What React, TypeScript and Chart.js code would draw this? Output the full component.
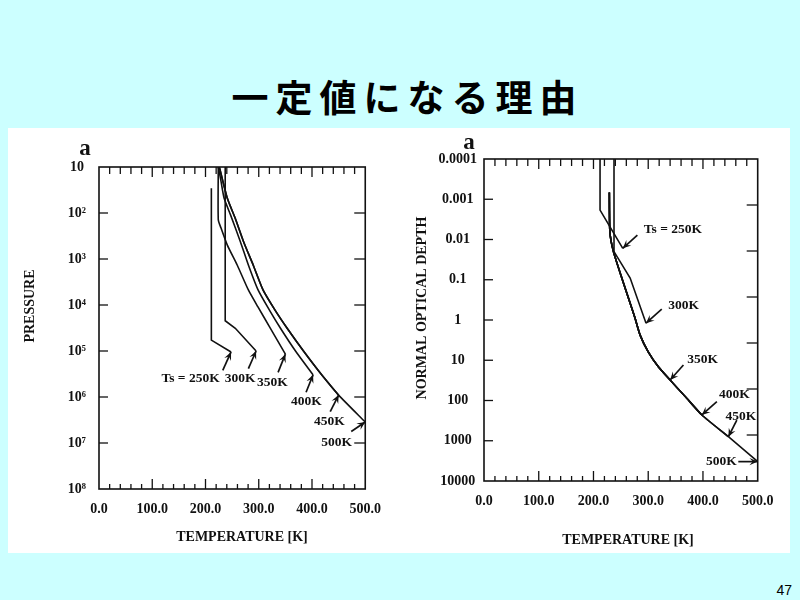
import { useEffect, useRef } from 'react';
import Chart from 'chart.js/auto';

const SERIF = '"Liberation Serif", "Times New Roman", Times, serif';
const INK = '#111111';

// temperature axis shared by both panels
const tempMin = 0;
const tempMax = 500;
const tempStep = 20;

// surface temperature written at the end of each curve
const tsLabels = ['Ts = 250K', '300K', '350K', '400K', '450K', '500K'];

// left panel: pressure (log, increasing downward)
const pressureTicks = [1e1, 1e2, 1e3, 1e4, 1e5, 1e6, 1e7, 1e8];
const pressureLabels = ['10', '10²', '10³', '10⁴', '10⁵', '10⁶', '10⁷', '10⁸'];

const pres250T = [211, 211, 248];
const pres250P = [29, 5.8e4, 1.05e5];
const pres300T = [237, 237, 256, 295];
const pres300P = [10, 2.2e4, 3.2e4, 1.0e5];
const pres350T = [224, 224, 229, 241, 259.5, 280.5, 298.5, 320, 350];
const pres350P = [10, 140, 210, 500, 1350, 4700, 1.1e4, 2.95e4, 1.17e5];
const pres400T = [224, 229, 235, 247, 265.5, 280.5, 298.7, 319.5, 340.5, 369, 402];
const pres400P = [10, 20, 48, 110, 420, 1350, 4700, 1.26e4, 3.16e4, 1.0e5, 3.3e5];
const pres450T = [226, 241, 256, 271.5, 289.5, 308, 330, 353, 384, 417, 450];
const pres450P = [10, 48, 132, 420, 1350, 4700, 1.26e4, 3.16e4, 1.0e5, 3.16e5, 9.1e5];
const pres500T = [226, 241, 256, 271.5, 289.5, 308, 330, 353, 384, 417, 450, 500];
const pres500P = [10, 48, 132, 420, 1350, 4700, 1.26e4, 3.16e4, 1.0e5, 3.16e5, 9.1e5, 3.5e6];

// right panel: normal optical depth (log, increasing downward)
const depthTicks = [1e-4, 1e-3, 1e-2, 0.1, 1, 10, 100, 1000, 10000];
const depthLabels = ['0.0001', '0.001', '0.01', '0.1', '1', '10', '100', '1000', '10000'];
// unlabelled marks on the right edge of that panel (0..7 scale)
const depthRightTicks = [1, 2, 3, 4, 5, 6];

const depth250T = [212, 212, 253.5];
const depth250Tau = [1e-4, 1.86e-3, 0.0166];
const depth300T = [237.5, 237.5, 267, 296];
const depth300Tau = [1e-4, 0.02, 0.091, 1.2];
const depth350T = [229, 230, 236.5, 254, 264, 276, 285, 300, 318.5, 340];
const depth350Tau = [6.8e-4, 6.5e-3, 0.02, 0.112, 0.29, 0.91, 2.34, 6.2, 14.5, 31];
const depth400T = [229, 230, 236.5, 254, 264, 276, 285, 300, 318.5, 340, 368, 398];
const depth400Tau = [6.8e-4, 6.5e-3, 0.02, 0.112, 0.29, 0.91, 2.34, 6.2, 14.5, 31, 81, 229];
const depth450T = [229, 230, 236.5, 254, 264, 276, 285, 300, 318.5, 340, 368, 398, 446.5];
const depth450Tau = [6.8e-4, 6.5e-3, 0.02, 0.112, 0.29, 0.91, 2.34, 6.2, 14.5, 31, 81, 229, 794];
const depth500T = [229, 230, 236.5, 254, 264, 276, 285, 300, 318.5, 340, 368, 398, 446.5, 500];
const depth500Tau = [6.8e-4, 6.5e-3, 0.02, 0.112, 0.29, 0.91, 2.34, 6.2, 14.5, 31, 81, 229, 794, 3300];

interface Curve { t: number[]; v: number[]; smooth: boolean }
// arrow tail (dx, dy) and label centre (lx, ly), in px from the curve's end
interface Note { dx: number; dy: number; lx: number; ly: number }

interface PanelProps {
  width: number;
  height: number;
  curves: Curve[];
  notes: Note[];
  yTicks: number[];
  yLabels: string[];
  yPad: number;
  yWidth: number;
  xHeight: number;
  padTop: number;
  padRight: number;
  rightTicks?: number[];
  yTitle: string;
  letterAt: [number, number];
  xTitleAt: [number, number];
  yTitleAt: [number, number];
}

function seg(ctx: CanvasRenderingContext2D, x1: number, y1: number, x2: number, y2: number) {
  ctx.beginPath();
  ctx.moveTo(x1, y1);
  ctx.lineTo(x2, y2);
  ctx.stroke();
}

function decor(p: PanelProps) {
  return {
    id: 'decor',
    afterDatasetsDraw(chart: any) {
      const { ctx, chartArea, scales } = chart;
      const { left, right, top, bottom } = chartArea;
      const xs = scales.x;
      const ys = scales.y;
      ctx.save();
      ctx.strokeStyle = INK;
      ctx.fillStyle = INK;
      ctx.lineWidth = 1.6;
      ctx.strokeRect(left, top, right - left, bottom - top);

      // inward tick marks
      ctx.lineWidth = 1.3;
      xs.ticks.forEach((t: any) => {
        if (t.value <= tempMin || t.value >= tempMax) return;
        const px = xs.getPixelForValue(t.value);
        const major = t.value % 100 === 0;
        seg(ctx, px, bottom, px, bottom - (major ? 10 : 5));
        seg(ctx, px, top, px, top + (major ? 10 : 7));
      });
      ys.ticks.forEach((t: any) => {
        const py = ys.getPixelForValue(t.value);
        if (py < top + 2 || py > bottom - 2) return;
        seg(ctx, left, py, left + 9, py);
      });
      const rs = p.rightTicks ? scales.y2 : ys;
      rs.ticks.forEach((t: any) => {
        const py = rs.getPixelForValue(t.value);
        if (py < top + 2 || py > bottom - 2) return;
        seg(ctx, right - 11, py, right, py);
      });

      // arrows and Ts labels at the end of each curve
      ctx.font = `bold 13.5px ${SERIF}`;
      ctx.textAlign = 'center';
      ctx.textBaseline = 'middle';
      p.notes.forEach((n, i) => {
        const c = p.curves[i];
        const k = c.t.length - 1;
        const tx = xs.getPixelForValue(c.t[k]);
        const ty = ys.getPixelForValue(c.v[k]);
        const bx = tx + n.dx;
        const by = ty + n.dy;
        ctx.lineWidth = 1.7;
        seg(ctx, bx, by, tx, ty);
        const a = Math.atan2(ty - by, tx - bx);
        const hl = 9;
        ctx.beginPath();
        ctx.moveTo(tx, ty);
        ctx.lineTo(tx - hl * Math.cos(a - 0.42), ty - hl * Math.sin(a - 0.42));
        ctx.lineTo(tx - hl * 0.55 * Math.cos(a), ty - hl * 0.55 * Math.sin(a));
        ctx.lineTo(tx - hl * Math.cos(a + 0.42), ty - hl * Math.sin(a + 0.42));
        ctx.closePath();
        ctx.fill();
        ctx.fillText(tsLabels[i], tx + n.lx, ty + n.ly);
      });

      // panel letter and axis titles
      ctx.font = `bold 23px ${SERIF}`;
      ctx.textBaseline = 'alphabetic';
      ctx.fillText('a', p.letterAt[0], p.letterAt[1]);
      ctx.font = `bold 14px ${SERIF}`;
      ctx.textBaseline = 'middle';
      ctx.fillText('TEMPERATURE [K]', p.xTitleAt[0], p.xTitleAt[1]);
      ctx.translate(p.yTitleAt[0], p.yTitleAt[1]);
      ctx.rotate(-Math.PI / 2);
      ctx.fillText(p.yTitle, 0, 0);
      ctx.restore();
    },
  };
}

function Panel(p: PanelProps) {
  const canvasRef = useRef<HTMLCanvasElement>(null);
  const chartRef = useRef<Chart | null>(null);

  useEffect(() => {
    if (!canvasRef.current) return;
    if (chartRef.current) chartRef.current.destroy();
    const tickFont = { family: SERIF, weight: 'bold' as const, size: 14 };

    const scales: any = {
      x: {
        type: 'linear',
        min: tempMin,
        max: tempMax,
        grid: { display: false, drawTicks: false, tickLength: 0 },
        border: { display: false },
        ticks: {
          stepSize: tempStep,
          autoSkip: false,
          maxRotation: 0,
          padding: 12,
          color: INK,
          font: tickFont,
          callback: (v: number) => (v % 100 === 0 ? v.toFixed(1) : ''),
        },
        afterFit: (s: any) => { s.height = p.xHeight; },
      },
      y: {
        type: 'logarithmic',
        reverse: true,
        min: p.yTicks[0],
        max: p.yTicks[p.yTicks.length - 1],
        grid: { display: false, drawTicks: false, tickLength: 0 },
        border: { display: false },
        afterBuildTicks: (s: any) => { s.ticks = p.yTicks.map((value) => ({ value })); },
        ticks: {
          padding: p.yPad,
          crossAlign: 'center',
          color: INK,
          font: tickFont,
          callback: (_v: number, i: number) => p.yLabels[i],
        },
        afterFit: (s: any) => { s.width = p.yWidth; },
      },
    };
    if (p.rightTicks) {
      const rt = p.rightTicks;
      scales.y2 = {
        type: 'linear',
        position: 'right',
        reverse: true,
        min: 0,
        max: 7,
        grid: { display: false, drawTicks: false, tickLength: 0 },
        border: { display: false },
        ticks: { display: false },
        afterBuildTicks: (s: any) => { s.ticks = rt.map((value) => ({ value })); },
        afterFit: (s: any) => { s.width = 0; },
      };
    }

    chartRef.current = new Chart(canvasRef.current, {
      type: 'line',
      data: {
        datasets: p.curves.map((c) => ({
          data: c.t.map((t, i) => ({ x: t, y: c.v[i] })),
          borderColor: INK,
          borderWidth: 1.6,
          pointRadius: 0,
          fill: false,
          tension: c.smooth ? 0.2 : 0,
        })),
      },
      options: {
        animation: false,
        responsive: true,
        maintainAspectRatio: false,
        layout: { padding: { top: p.padTop, right: p.padRight, bottom: 0, left: 0 } },
        plugins: { legend: { display: false }, tooltip: { enabled: false } },
        scales,
      },
      plugins: [decor(p)],
    } as any);

    return () => chartRef.current?.destroy();
  }, []);

  return (
    <div style={{ position: 'relative', width: p.width, height: p.height }}>
      <canvas ref={canvasRef} />
    </div>
  );
}

const pressureCurves: Curve[] = [
  { t: pres250T, v: pres250P, smooth: false },
  { t: pres300T, v: pres300P, smooth: false },
  { t: pres350T, v: pres350P, smooth: true },
  { t: pres400T, v: pres400P, smooth: true },
  { t: pres450T, v: pres450P, smooth: true },
  { t: pres500T, v: pres500P, smooth: true },
];

const depthCurves: Curve[] = [
  { t: depth250T, v: depth250Tau, smooth: false },
  { t: depth300T, v: depth300Tau, smooth: false },
  { t: depth350T, v: depth350Tau, smooth: true },
  { t: depth400T, v: depth400Tau, smooth: true },
  { t: depth450T, v: depth450Tau, smooth: true },
  { t: depth500T, v: depth500Tau, smooth: true },
];

const pressureNotes: Note[] = [
  { dx: -8.3, dy: 18.3, lx: -40.5, ly: 26.3 },
  { dx: -7.7, dy: 17.7, lx: -16, ly: 28 },
  { dx: -7.3, dy: 18.3, lx: -13, ly: 28.3 },
  { dx: -7, dy: 17.4, lx: -6.8, ly: 26.7 },
  { dx: -8.4, dy: 16.6, lx: -9.2, ly: 26 },
  { dx: -14, dy: 9.4, lx: -28.5, ly: 20 },
];

const depthNotes: Note[] = [
  { dx: 14.6, dy: -13.3, lx: 50.1, ly: -19.3 },
  { dx: 15.7, dy: -14, lx: 37.7, ly: -18 },
  { dx: 13.3, dy: -15, lx: 32.5, ly: -20.7 },
  { dx: 15, dy: -13.3, lx: 32.5, ly: -20 },
  { dx: 8.4, dy: -16.7, lx: 12.5, ly: -20.7 },
  { dx: -19.4, dy: 0, lx: -36.4, ly: 0 },
];

export default function App() {
  return (
    <div style={{ position: 'fixed', left: 0, top: 0, width: 800, height: 600, background: '#ccffff', overflow: 'hidden' }}>
      <div
        style={{
          position: 'absolute',
          left: 0,
          top: 74,
          width: 815,
          textAlign: 'center',
          fontFamily: '"Noto Sans CJK JP", sans-serif',
          fontWeight: 700,
          fontSize: 37,
          lineHeight: '44px',
          letterSpacing: 7,
          color: '#000',
          whiteSpace: 'nowrap',
        }}
      >
        一定値になる理由
      </div>
      <div style={{ position: 'absolute', left: 8, top: 128, width: 782, height: 425, background: '#ffffff' }} />
      <div style={{ position: 'absolute', left: 8, top: 128 }}>
        <Panel
          width={385}
          height={425}
          curves={pressureCurves}
          notes={pressureNotes}
          yTicks={pressureTicks}
          yLabels={pressureLabels}
          yPad={13}
          yWidth={91}
          xHeight={64}
          padTop={39}
          padRight={19}
          yTitle="PRESSURE"
          letterAt={[77, 27]}
          xTitleAt={[234, 409]}
          yTitleAt={[22, 178]}
        />
      </div>
      <div style={{ position: 'absolute', left: 400, top: 128 }}>
        <Panel
          width={390}
          height={425}
          curves={depthCurves}
          notes={depthNotes}
          yTicks={depthTicks}
          yLabels={depthLabels}
          yPad={7}
          yWidth={84}
          xHeight={72}
          padTop={31}
          padRight={32.3}
          rightTicks={depthRightTicks}
          yTitle="NORMAL OPTICAL DEPTH"
          letterAt={[69, 21]}
          xTitleAt={[228, 412]}
          yTitleAt={[22.5, 180]}
        />
      </div>
      <div
        style={{
          position: 'absolute',
          right: 8,
          top: 582,
          fontFamily: '"Liberation Sans", Arial, sans-serif',
          fontSize: 14,
          lineHeight: '16px',
          color: '#000',
        }}
      >
        47
      </div>
    </div>
  );
}
